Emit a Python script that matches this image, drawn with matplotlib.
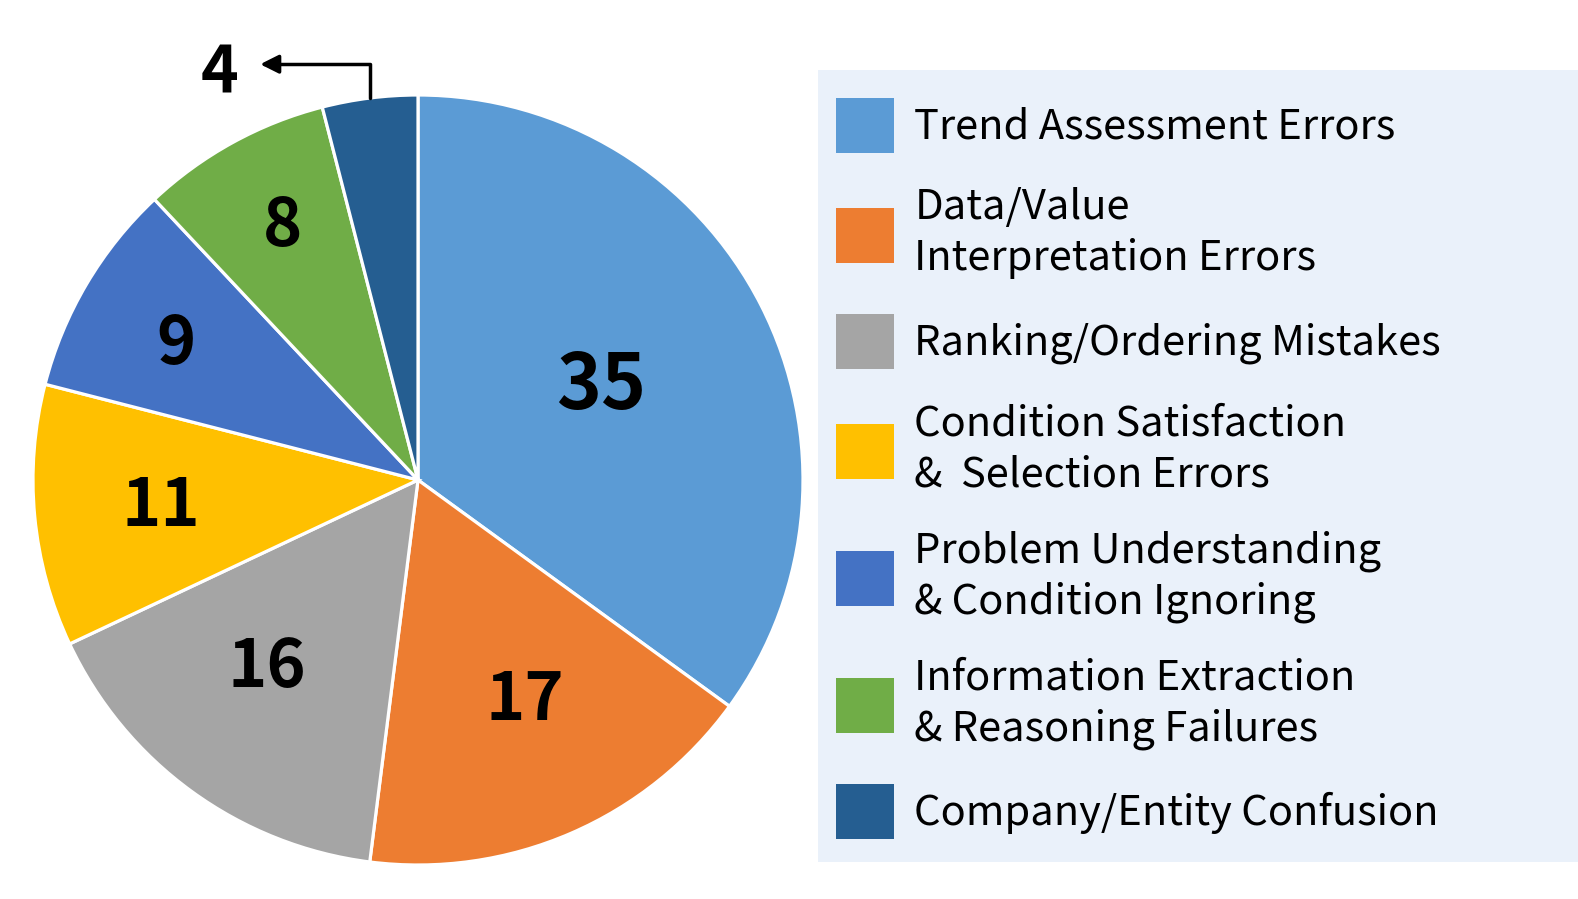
import numpy as np
import matplotlib
matplotlib.use('Agg')
import matplotlib.pyplot as plt
from matplotlib.patches import Rectangle

plt.rcParams['font.family'] = ['Noto Sans CJK SC', 'DejaVu Sans']

categories = [
    'Trend Assessment Errors',
    'Data/Value\nInterpretation Errors',
    'Ranking/Ordering Mistakes',
    'Condition Satisfaction\n&  Selection Errors',
    'Problem Understanding\n& Condition Ignoring',
    'Information Extraction\n& Reasoning Failures',
    'Company/Entity Confusion',
]
counts = [35, 17, 16, 11, 9, 8, 4]
colors = ['#5B9BD5', '#ED7D31', '#A5A5A5', '#FFC000', '#4472C4', '#70AD47', '#255E91']
# where each number sits inside its wedge (radius fraction, angle nudge in deg)
label_dist = [0.54, 0.627, 0.617, 0.67, 0.725, 0.757, None]
label_turn = [1.0, 2.8, -3.5, -0.5, 0.6, -1.0, 0]
label_size = [55, 48, 48, 48, 48, 48, 46]

W, H = 1578, 899
fig = plt.figure(figsize=(W / 100, H / 100), dpi=100)

cx, cy, r = 418, 480, 385
ax = fig.add_axes([(cx - r) / W, (H - cy - r) / H, 2 * r / W, 2 * r / H])

wedges, _ = ax.pie(counts, colors=colors, startangle=90, counterclock=False,
                   radius=1.0,
                   wedgeprops=dict(edgecolor='white', linewidth=2.3))
ax.set_xlim(-1, 1)
ax.set_ylim(-1, 1)
ax.axis('off')

for w, n, d, t, fs in zip(wedges, counts, label_dist, label_turn, label_size):
    mid = np.deg2rad((w.theta1 + w.theta2) / 2 + t)
    if d is not None:
        ax.annotate(str(n), xy=(d * np.cos(mid), d * np.sin(mid)),
                    xytext=(0, -3), textcoords='offset points',
                    ha='center', va='center',
                    fontsize=fs, fontweight='bold', color='black')
    else:
        # small slice: label outside with an elbow arrow
        x0, y0 = np.cos(mid), np.sin(mid)
        ax.annotate('', xy=(-0.41, 1.08), xytext=(x0, y0),
                    arrowprops=dict(arrowstyle='-|>', color='black', lw=2.5,
                                    connectionstyle='angle,angleA=90,angleB=0,rad=0',
                                    mutation_scale=28, shrinkA=0, shrinkB=0),
                    annotation_clip=False)
        ax.annotate(str(n), xy=(-0.515, 1.065), xytext=(0, -3),
                    textcoords='offset points', ha='center', va='center',
                    fontsize=fs, fontweight='bold', color='black',
                    annotation_clip=False)

# legend background panel
fig.patches.append(Rectangle((818 / W, 1 - 862 / H), (W - 818) / W, (862 - 70) / H,
                             transform=fig.transFigure, facecolor='#EAF1FA',
                             edgecolor='none', zorder=0))

leg = fig.legend(wedges, categories, loc='upper left',
                 bbox_to_anchor=(819 / W, 1 - 81 / H),
                 fontsize=30, frameon=False,
                 handlelength=1.39, handleheight=1.654, handletextpad=0.5,
                 labelspacing=0.835, borderpad=0.4, borderaxespad=0)
for h in leg.legend_handles:
    h.set_linewidth(0)
for txt in leg.get_texts():
    txt.set_linespacing(1.3)

fig.savefig('out.png', dpi=100)
